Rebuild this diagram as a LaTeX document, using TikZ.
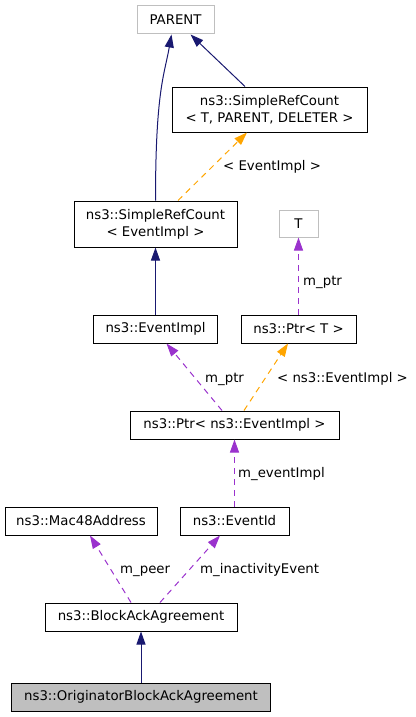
\documentclass[tikz,border=0pt]{standalone}
\usepackage{fontspec}
\setmainfont{DejaVu Sans}
\usetikzlibrary{arrows.meta}

\definecolor{edgeblue}{HTML}{191970}
\definecolor{edgeorange}{HTML}{FFA500}
\definecolor{edgepurple}{HTML}{9A32CD}
\definecolor{boxgray}{HTML}{BFBFBF}

\tikzset{
  classbox/.style={draw=black,
    line width=1pt,
    minimum height=28pt,
    inner sep=0pt,
    align=center,
    font=\fontsize{13.3}{17}\selectfont},
  tplbox/.style={classbox, draw=boxgray},
  edgelabel/.style={anchor=base west,
    inner sep=0pt,
    font=\fontsize{13.3}{17}\selectfont},
  inherit/.style={-{Triangle[length=13pt,width=9pt]}, line width=1pt, draw=edgeblue},
  usage/.style={-{Triangle[length=13pt,width=9pt]}, line width=1pt, dash pattern=on 6pt off 5pt, draw=edgepurple},
  tplinst/.style={-{Triangle[length=13pt,width=9pt]}, line width=1pt, dash pattern=on 6pt off 5pt, draw=edgeorange}
}

\begin{document}
\begin{tikzpicture}[x=1pt, y=-1pt]
    \useasboundingbox (0,0) rectangle (415,717);

    % PARENT
    \node[tplbox, minimum width=77pt] (Parent) at (175.5,20) {PARENT};

    % SimpleRefCount template
    \node[classbox,
      minimum width=195pt,
      minimum height=45pt] (RefCountTpl) at (269.5,109.5) {ns3::SimpleRefCount\\\textless{} T, PARENT, DELETER \textgreater};

    % SimpleRefCount of EventImpl
    \node[classbox,
      minimum width=163pt,
      minimum height=46pt] (RefCountEvt) at (155.5,224) {ns3::SimpleRefCount\\\textless{} EventImpl \textgreater};

    % T
    \node[tplbox, minimum width=39pt, minimum height=27pt] (TParam) at (298.5,223.5) {T};

    % EventImpl
    \node[classbox, minimum width=124pt] (EventImpl) at (155.5,329) {ns3::EventImpl};

    % Ptr template
    \node[classbox, minimum width=115pt] (PtrTpl) at (298.5,329) {ns3::Ptr\textless{} T \textgreater};

    % Ptr of EventImpl
    \node[classbox, minimum width=209pt] (PtrEvt) at (234.5,425) {ns3::Ptr\textless{} ns3::EventImpl \textgreater};

    % Mac48Address
    \node[classbox, minimum width=152pt] (MacAddr) at (81,521) {ns3::Mac48Address};

    % EventId
    \node[classbox, minimum width=109pt] (EventId) at (234.5,521) {ns3::EventId};

    % BlockAckAgreement
    \node[classbox, minimum width=192pt] (BlockAck) at (141,617) {ns3::BlockAckAgreement};

    % OriginatorBlockAckAgreement
    \node[classbox,
      minimum width=259pt,
      fill=boxgray] (OrigAck) at (141,697) {ns3::OriginatorBlockAckAgreement};

    % Draw Arrows
    \draw[inherit] (RefCountEvt.north) .. controls +(0,-110) and +(-7,40) .. ([xshift=-4]Parent.south);
    \draw[inherit] ([xshift=-24.5]RefCountTpl.north) -- ([xshift=15]Parent.south);
    \draw[tplinst] ([xshift=22.5]RefCountEvt.north) -- ([xshift=-22.5]RefCountTpl.south);
    \draw[inherit] (EventImpl.north) -- (RefCountEvt.south);
    \draw[usage] (PtrTpl.north) -- (TParam.south);
    \draw[usage] ([xshift=-12.5]PtrEvt.north) -- ([xshift=11]EventImpl.south);
    \draw[tplinst] ([xshift=9.5]PtrEvt.north) -- ([xshift=-10.5]PtrTpl.south);
    \draw[usage] (EventId.north) -- (PtrEvt.south);
    \draw[usage] ([xshift=-10]BlockAck.north) -- ([xshift=9]MacAddr.south);
    \draw[usage] ([xshift=19]BlockAck.north) -- ([xshift=-14.5]EventId.south);
    \draw[inherit] (OrigAck.north) -- (BlockAck.south);

    % Text labels
    \node[edgelabel] (LblEvtImpl) at (223,170) {\textless{} EventImpl \textgreater};
    \node[edgelabel] (LblPtrT) at (303,285) {m\_ptr};
    \node[edgelabel] (LblPtrEvt) at (205,382) {m\_ptr};
    \node[edgelabel] (LblNsEvt) at (277,382) {\textless{} ns3::EventImpl \textgreater};
    \node[edgelabel] (LblEvtId) at (238,477) {m\_eventImpl};
    \node[edgelabel] (LblPeer) at (120,573) {m\_peer};
    \node[edgelabel] (LblInact) at (200,573) {m\_inactivityEvent};

  \end{tikzpicture}
\end{document}
